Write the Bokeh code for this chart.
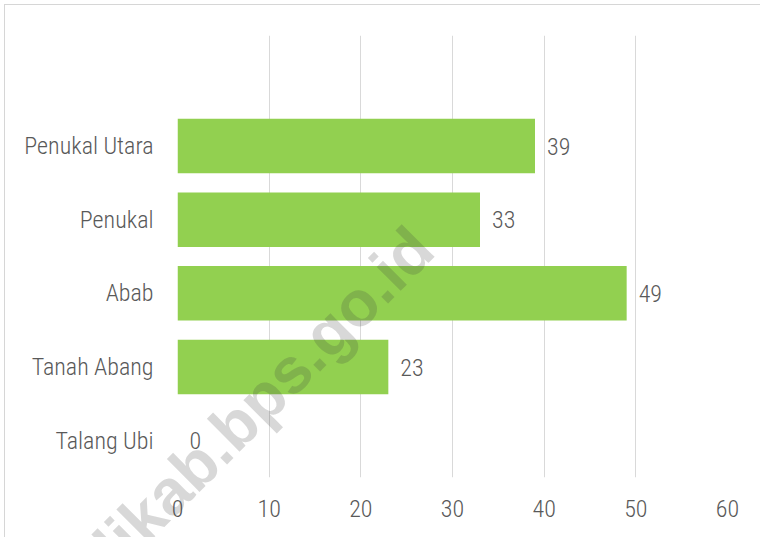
from bokeh.plotting import figure
from bokeh.models import FactorRange, Range1d, ColumnDataSource, LabelSet, FixedTicker, Div
from bokeh.core.properties import value
from bokeh.layouts import column
from bokeh.embed import file_html
from bokeh.resources import INLINE

categories = ["Talang Ubi", "Tanah Abang", "Abab", "Penukal", "Penukal Utara"]
values = [0, 23, 49, 33, 39]
x_ticks = [0, 10, 20, 30, 40, 50, 60]
watermark = "palikab.bps.go.id"

FONT = "Roboto Condensed Light"
TXT = "#595959"
FS = "24px"

factors = categories + [""]
src = ColumnDataSource(dict(cat=categories, val=values, lbl=[str(v) for v in values]))

p = figure(width=758, height=535, y_range=FactorRange(factors=factors),
           x_range=Range1d(0, 60), output_backend="svg", toolbar_location=None,
           min_border_left=177, min_border_right=31, min_border_top=35, min_border_bottom=58)

p.hbar(y="cat", right="val", left=0, height=0.74, source=src, color="#92d050", line_color=None)

labels = LabelSet(x="val", y="cat", text="lbl", source=src, x_offset=12,
                  text_baseline="middle", text_align="left", text_font=value(FONT),
                  text_font_size=value(FS), text_color=value(TXT))
p.add_layout(labels)

p.xaxis.ticker = FixedTicker(ticks=x_ticks)
p.xgrid.grid_line_color = "#d9d9d9"
p.ygrid.grid_line_color = None
p.outline_line_color = None
for ax in (p.xaxis, p.yaxis):
    ax.axis_line_color = None
    ax.major_tick_line_color = None
    ax.minor_tick_line_color = None
    ax.major_label_text_font = FONT
    ax.major_label_text_font_size = FS
    ax.major_label_text_color = TXT
p.xaxis.major_label_standoff = 16
p.yaxis.major_label_standoff = 18
p.yaxis.group_text_font_size = "0px"

inner = ('<div style="position:absolute;left:-29px;top:386px;white-space:nowrap;'
         'font:bold 64px/64px \'Liberation Sans\';color:rgba(60,60,60,0.2);'
         'transform:rotate(-45deg);">' + watermark + '</div>')
wm = Div(text=inner, styles={"position": "absolute", "left": "0px", "top": "0px",
         "width": "758px", "height": "535px", "overflow": "hidden", "pointer-events": "none"})
frame_div = Div(text="", styles={"position": "absolute", "left": "-1px", "top": "-1px",
                "width": "758px", "height": "535px", "border-top": "1px solid #d6d6d6",
                "border-left": "1px solid #d6d6d6", "pointer-events": "none"})

open("out.html", "w").write(file_html(column(p, wm, frame_div), INLINE))
